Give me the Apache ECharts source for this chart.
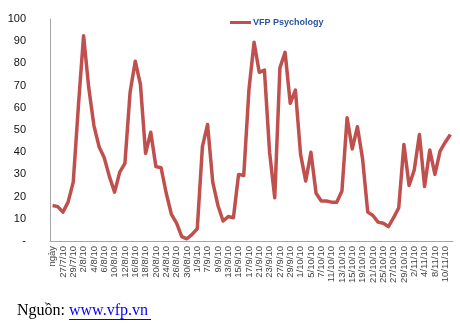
<!DOCTYPE html>
<html>
<head>
<meta charset="utf-8">
<script src="https://cdn.jsdelivr.net/npm/echarts@6/dist/echarts.min.js"></script>
<style>
  html, body { margin: 0; padding: 0; background: #fff; }
  #chart { width: 460px; height: 324px; }
</style>
</head>
<body>
<div id="chart"></div>
<script>
// Trading days (first entry is the header cell "ngày")
const dates = [
  'ngày', '26/7/10', '27/7/10', '28/7/10', '29/7/10', '30/7/10',
  '2/8/10', '3/8/10', '4/8/10', '5/8/10', '6/8/10',
  '9/8/10', '10/8/10', '11/8/10', '12/8/10', '13/8/10',
  '16/8/10', '17/8/10', '18/8/10', '19/8/10', '20/8/10',
  '23/8/10', '24/8/10', '25/8/10', '26/8/10', '27/8/10',
  '30/8/10', '31/8/10', '1/9/10', '6/9/10', '7/9/10',
  '8/9/10', '9/9/10', '10/9/10', '13/9/10', '14/9/10',
  '15/9/10', '16/9/10', '17/9/10', '20/9/10', '21/9/10',
  '22/9/10', '23/9/10', '24/9/10', '27/9/10', '28/9/10',
  '29/9/10', '30/9/10', '1/10/10', '4/10/10', '5/10/10',
  '6/10/10', '7/10/10', '8/10/10', '11/10/10', '12/10/10',
  '13/10/10', '14/10/10', '15/10/10', '18/10/10', '19/10/10',
  '20/10/10', '21/10/10', '22/10/10', '25/10/10', '26/10/10',
  '27/10/10', '28/10/10', '29/10/10', '1/11/10', '2/11/10',
  '3/11/10', '4/11/10', '5/11/10', '8/11/10', '9/11/10',
  '10/11/10', '11/11/10'
];

// VFP Psychology index
const psychology = [
  16, 15.5, 13, 17.5, 26.5, 61,
  92.5, 69, 52, 42.5, 37.5,
  29, 22, 31, 35, 67,
  81, 70.5, 39.5, 49, 33.5,
  33, 21.5, 12, 8, 2,
  1, 3, 5.5, 42.5, 52.5,
  26.5, 16, 9, 11, 10.5,
  30, 29.5, 68, 89.5, 76,
  77, 40, 19.5, 78, 85,
  62, 68, 39, 27, 40,
  21.5, 18, 18, 17.5, 17.5,
  22.5, 55.5, 41.5, 51.5, 37,
  13, 11.5, 8.5, 8, 6.5,
  10.5, 15, 43.5, 25, 32,
  48, 24.5, 41, 30, 40.5,
  44.5, 48
];

const yTicks = { min: 0, max: 100, step: 10 };
const seriesName = 'VFP Psychology';
const sourceLabel = 'Nguồn:';
const sourceLink = 'www.vfp.vn';

const chart = echarts.init(document.getElementById('chart'), null, { renderer: 'canvas' });

chart.setOption({
  animation: false,
  backgroundColor: '#ffffff',
  grid: { left: 50, right: 7, top: 19, bottom: 83, containLabel: false },
  legend: {
    data: [seriesName],
    left: 225,
    top: 13,
    itemWidth: 21,
    itemHeight: 3,
    itemGap: 4,
    icon: 'rect',
    textStyle: {
      fontFamily: 'Liberation Sans',
      fontWeight: 'bold',
      fontSize: 9,
      color: '#2855A0',
      padding: [0, 0, 0, -3]
    }
  },
  xAxis: {
    type: 'category',
    data: dates,
    boundaryGap: true,
    axisLine: { lineStyle: { color: '#A6A6A6', width: 1 } },
    axisTick: { show: false },
    axisLabel: {
      interval: 1,
      rotate: 90,
      margin: 5,
      fontFamily: 'Liberation Sans',
      fontSize: 9.5,
      color: '#444'
    },
    splitLine: { show: false }
  },
  yAxis: {
    type: 'value',
    min: yTicks.min,
    max: yTicks.max,
    interval: yTicks.step,
    axisLine: { show: true, lineStyle: { color: '#A6A6A6', width: 1 } },
    axisTick: { show: false },
    splitLine: { show: false },
    axisLabel: {
      margin: 24,
      fontFamily: 'Liberation Sans',
      fontSize: 11,
      color: '#111',
      formatter: v => (v === 0 ? '-' : String(v))
    }
  },
  series: [{
    name: seriesName,
    type: 'line',
    data: psychology,
    symbol: 'none',
    smooth: false,
    lineStyle: { color: '#C0504D', width: 3.5, join: 'round' },
    itemStyle: { color: '#C0504D' }
  }],
  graphic: [
    {
      type: 'text',
      left: 17,
      top: 303,
      style: {
        text: sourceLabel,
        font: '16px "Liberation Serif"',
        fill: '#000'
      }
    },
    {
      type: 'text',
      left: 69,
      top: 303,
      style: {
        text: sourceLink,
        font: '16px "Liberation Serif"',
        fill: '#0000FF'
      }
    },
    {
      type: 'line',
      shape: { x1: 69, y1: 319.5, x2: 151, y2: 319.5 },
      style: { stroke: '#0000FF', lineWidth: 1 }
    }
  ]
});
</script>
</body>
</html>
